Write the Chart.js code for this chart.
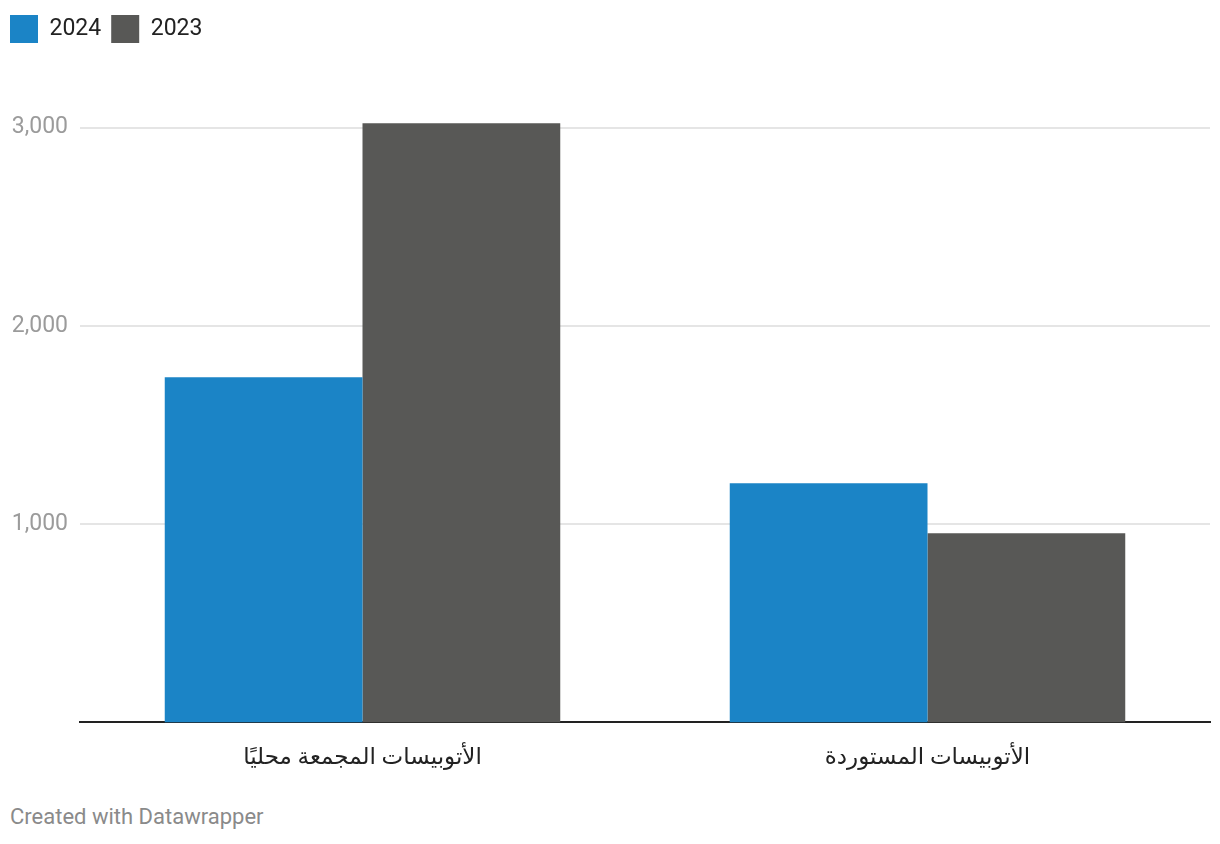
<!DOCTYPE html>
<html lang="ar">
<head>
    <meta charset="UTF-8">
    <title>الأتوبيسات</title>
    <style>
        body {
            margin: 0;
            padding: 0;
            background-color: #ffffff;
            font-family: Roboto, Arial, sans-serif;
        }
        .wrap {
            position: relative;
            width: 1220px;
            height: 844px;
        }
        .credit {
            position: absolute;
            left: 10px;
            top: 804px;
            font-size: 22px;
            color: #8a8a8a;
            font-family: Roboto, Arial, sans-serif;
        }
    </style>
</head>
<body>
    <div class="wrap">
        <canvas id="myChart" width="1220" height="794"></canvas>
        <div class="credit">Created with Datawrapper</div>
    </div>

    <script src="https://cdn.jsdelivr.net/npm/chart.js"></script>
    <script>
        const categories = ['الأتوبيسات المجمعة محليًا', 'الأتوبيسات المستوردة'];
        const values2024 = [1741, 1206];
        const values2023 = [3022, 954];
        const yTicks = [1000, 2000, 3000];

        // extra room under the legend, like the datawrapper layout
        const legendGap = {
            id: 'legendGap',
            beforeInit(chart) {
                const fit = chart.legend.fit;
                chart.legend.fit = function () {
                    fit.bind(chart.legend)();
                    this.height += 45;
                };
            }
        };

        const ctx = document.getElementById('myChart').getContext('2d');

        const chart = new Chart(ctx, {
            type: 'bar',
            data: {
                labels: categories,
                datasets: [
                    {
                        label: '2024',
                        data: values2024,
                        backgroundColor: '#1b84c6',
                        categoryPercentage: 0.7,
                        barPercentage: 1.0
                    },
                    {
                        label: '2023',
                        data: values2023,
                        backgroundColor: '#585856',
                        categoryPercentage: 0.7,
                        barPercentage: 1.0
                    }
                ]
            },
            plugins: [legendGap],
            options: {
                responsive: false,
                animation: false,
                layout: {
                    padding: { left: 0, right: 10, top: 5, bottom: 0 }
                },
                plugins: {
                    legend: {
                        display: true,
                        align: 'start',
                        labels: {
                            boxWidth: 28,
                            boxHeight: 28,
                            padding: 10,
                            color: '#222',
                            font: { family: 'Roboto', size: 23 }
                        }
                    },
                    tooltip: { enabled: false }
                },
                scales: {
                    x: {
                        grid: { display: false, drawTicks: false },
                        border: { color: '#222', width: 2 },
                        ticks: {
                            color: '#222',
                            padding: 22,
                            font: { family: 'Roboto, "DejaVu Sans"', size: 23 }
                        }
                    },
                    y: {
                        min: 0,
                        max: 3150,
                        afterBuildTicks: (axis) => {
                            axis.ticks = yTicks.map(v => ({ value: v }));
                        },
                        afterFit: (axis) => {
                            axis.width = 80;
                        },
                        grid: { color: '#e5e5e5', lineWidth: 2, drawTicks: false },
                        border: { display: false },
                        ticks: {
                            color: '#9b9b9b',
                            padding: 12,
                            font: { family: 'Roboto', size: 23 },
                            callback: (v) => v.toLocaleString('en-US')
                        }
                    }
                }
            }
        });
    </script>
</body>
</html>
